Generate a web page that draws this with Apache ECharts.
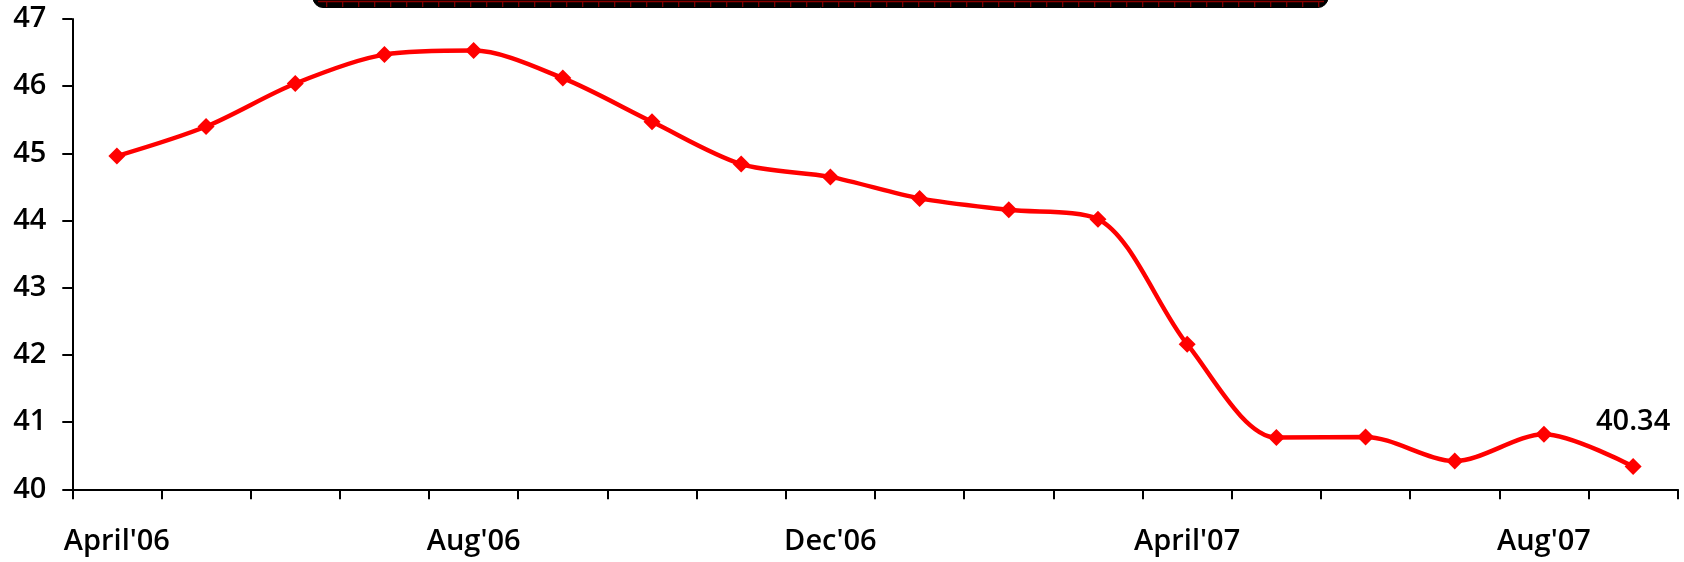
<!DOCTYPE html>
<html>
<head>
<meta charset="utf-8">
<script src="https://cdn.jsdelivr.net/npm/echarts@6/dist/echarts.min.js"></script>
<style>
html,body{margin:0;padding:0;background:#fff;}
#c{width:1684px;height:562px;}
</style>
</head>
<body>
<div id="c"></div>
<script>
var months = ["April'06","May'06","Jun'06","Jul'06","Aug'06","Sep'06","Oct'06","Nov'06","Dec'06","Jan'07","Feb'07","Mar'07","April'07","May'07","Jun'07","Jul'07","Aug'07","Sep'07"];
var values = [44.96,45.40,46.04,46.47,46.53,46.12,45.47,44.84,44.65,44.33,44.16,44.02,42.16,40.77,40.78,40.42,40.82,40.34];
var yTicks = [40,41,42,43,44,45,46,47];

var FONT = '"Open Sans", "DejaVu Sans", sans-serif';
var FW = 600;
var FS = 29;
var chart = echarts.init(document.getElementById('c'), null, {renderer:'canvas'});

// decorative cut-off title box at the top
var boxEls = [];
boxEls.push({type:'rect', shape:{x:313,y:-30,width:1015,height:37.5,r:10}, style:{fill:'#000',stroke:'#000',lineWidth:1}});
boxEls.push({type:'line', shape:{x1:318,y1:1.5,x2:1324,y2:1.5}, style:{stroke:'#8b0000',lineWidth:1.5}});
for (var bx = 326.7; bx < 1324; bx += 16) {
  boxEls.push({type:'line', shape:{x1:bx,y1:2,x2:bx,y2:7}, style:{stroke:'#8b0000',lineWidth:1.2}});
}

chart.setOption({
  animation:false,
  backgroundColor:'#fff',
  grid:{left:72.3, right:6.3, top:19, bottom:72.7, containLabel:false},
  xAxis:{
    type:'category',
    data:months,
    boundaryGap:true,
    axisLine:{lineStyle:{color:'#000',width:2}},
    axisTick:{show:true, interval:0, length:10, lineStyle:{color:'#000',width:2}},
    axisLabel:{interval:3, margin:38, color:'#000', fontSize:FS, fontWeight:FW, fontFamily:FONT},
    splitLine:{show:false}
  },
  yAxis:{
    type:'value',
    min:yTicks[0], max:yTicks[yTicks.length-1], interval:1,
    axisLine:{show:true, lineStyle:{color:'#000',width:2}},
    axisTick:{show:true, length:10, lineStyle:{color:'#000',width:2}},
    axisLabel:{margin:26, color:'#000', fontSize:FS, fontWeight:FW, fontFamily:FONT},
    splitLine:{show:false}
  },
  series:[{
    type:'line',
    data:values.map(function(v,i){
      if (i === values.length-1) {
        return {value:v, label:{show:true, position:'top', distance:22, color:'#000', fontSize:FS, fontWeight:FW, fontFamily:FONT, formatter:function(p){return p.value.toFixed(2);}}};
      }
      return v;
    }),
    smooth:0.3,
    symbol:'diamond',
    symbolSize:17,
    itemStyle:{color:'#ff0000'},
    lineStyle:{color:'#ff0000', width:4.5},
    z:3
  }],
  graphic:boxEls
});
</script>
</body>
</html>
